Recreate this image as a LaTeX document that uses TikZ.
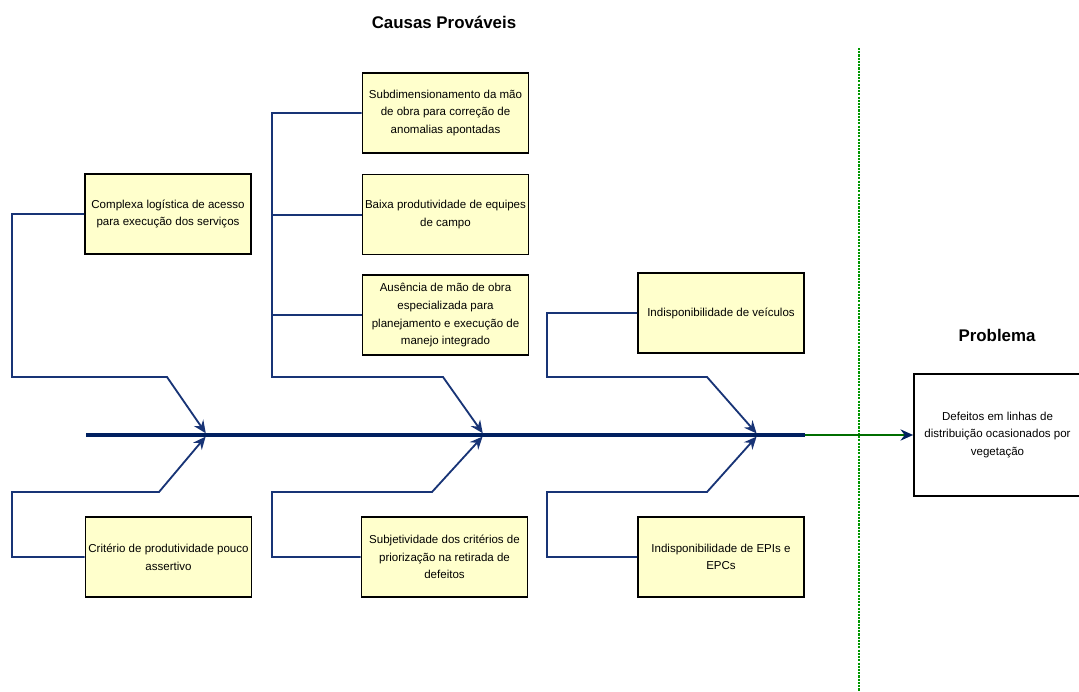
\documentclass[tikz,border=0pt]{standalone}
\usepackage{fontspec}
\setmainfont{Liberation Sans}
\usetikzlibrary{arrows.meta, positioning}
\usepackage{xcolor}
\definecolor{boxyellow}{RGB}{255,255,204}
\definecolor{spinenavy}{RGB}{0,32,96}
\definecolor{branchnavy}{RGB}{24,52,118}
\definecolor{sepgreen}{RGB}{0,150,0}
\definecolor{linegreen}{RGB}{0,110,0}

\begin{document}
\begin{tikzpicture}[
    x=0.025cm, y=-0.025cm,
    node distance=0.5cm,
    align=center,
    causebox/.style={draw=black, line width=1.1pt, fill=boxyellow, minimum width=4.15cm, minimum height=2.0cm, inner sep=0pt, font=\fontsize{8.2}{12.6}\selectfont},
    probbox/.style={draw=black, line width=1.2pt, fill=white, minimum width=4.175cm, minimum height=3.05cm, inner sep=0pt, font=\fontsize{8.2}{12.6}\selectfont},
    title/.style={font=\bfseries\fontsize{12}{14}\selectfont},
    branch/.style={draw=branchnavy, line width=1.3pt},
    tip/.style={branch, -{Stealth[length=9pt, width=8pt, inset=3pt]}},
    spine/.style={draw=spinenavy, line width=2.2pt},
    sepline/.style={draw=sepgreen, line width=0.8pt, dash pattern=on 1.5pt off 0.8pt}
]
    \useasboundingbox (0,0) rectangle (1079,691);

    % Titulos
    \node[title] (causas) at (444,22) {Causas Prováveis};
    \node[title] (problema) at (997,335) {Problema};

    % Causas
    \node[causebox] (logist) at (168,214) {Complexa logística de acesso\\para execução dos serviços};
    \node[causebox] (subdim) at (445.5,113) {Subdimensionamento da mão\\de obra para correção de\\anomalias apontadas};
    \node[causebox, below=of subdim] (baixa) {Baixa produtividade de equipes\\de campo};
    \node[causebox, below=0.475cm of baixa] (ausencia) {Ausência de mão de obra\\especializada para\\planejamento e execução de\\manejo integrado};
    \node[causebox] (veiculos) at (721,313) {Indisponibilidade de veículos};
    \node[causebox] (criterio) at (168.5,557) {Critério de produtividade pouco\\assertivo};
    \node[causebox] (subjet) at (444.5,557) {Subjetividade dos critérios de\\priorização na retirada de\\defeitos};
    \node[causebox] (epis) at (721,557) {Indisponibilidade de EPIs e\\EPCs};

    % Problema
    \node[probbox] (defeitos) at (997.5,435) {Defeitos em linhas de\\distribuição ocasionados por\\vegetação};

    % Separador
    \coordinate (septop) at (859,48);
    \coordinate (sepbot) at (859,691);
    \draw[sepline] (septop) -- (sepbot);

    % Espinha
    \coordinate (spinestart) at (86,435);
    \coordinate (spineend) at (805,435);
    \coordinate (tipa) at (207,435);
    \coordinate (tipb) at (484,435);
    \coordinate (tipc) at (758,435);
    \coordinate (midbar) at (272,377);
    \draw[spine] (spinestart) -- (spineend);
    \draw[draw=linegreen, line width=1.2pt, -{Stealth[length=9pt, width=8pt, inset=3pt, color=spinenavy]}] (spineend) -- (defeitos.west);

    % Ramos superiores
    \draw[tip, shorten >=1.5pt] (logist.west) -| (12,377) -- (167,377) -- (tipa);
    \draw[tip, shorten >=1.5pt] (subdim.west) -| (midbar) -- (443,377) -- (tipb);
    \draw[branch] ([yshift=-0.3pt]baixa.west) -- ([yshift=-0.3pt]baixa.west -| midbar);
    \draw[branch] (ausencia.west) -- (ausencia.west -| midbar);
    \draw[tip, shorten >=1.5pt] (veiculos.west) -| (547,377) -- (707,377) -- (tipc);

    % Ramos inferiores
    \draw[tip, shorten >=1.5pt] (criterio.west) -| (12,492) -- (159,492) -- (tipa);
    \draw[tip, shorten >=1.5pt] (subjet.west) -| (272,492) -- (432,492) -- (tipb);
    \draw[tip, shorten >=1.5pt] (epis.west) -| (547,492) -- (707,492) -- (tipc);
\end{tikzpicture}
\end{document}
